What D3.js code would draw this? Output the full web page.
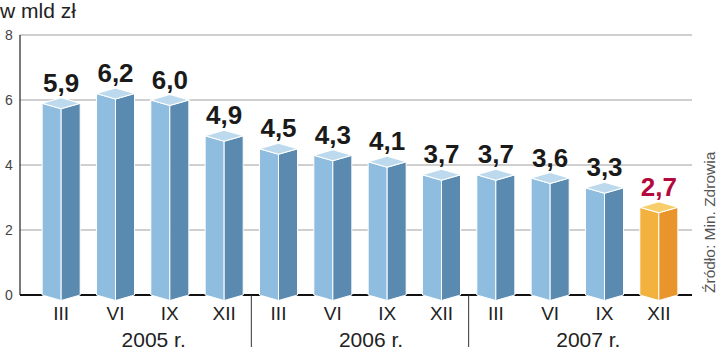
<!DOCTYPE html>
<html><head><meta charset="utf-8">
<script src="https://cdn.jsdelivr.net/npm/d3@7"></script>
<style>
html,body{margin:0;padding:0;background:#fff;}
svg{display:block;}
</style></head>
<body>
<script>
const months = ["III","VI","IX","XII","III","VI","IX","XII","III","VI","IX","XII"];
const values = [5.9,6.2,6.0,4.9,4.5,4.3,4.1,3.7,3.7,3.6,3.3,2.7];
const labels = ["5,9","6,2","6,0","4,9","4,5","4,3","4,1","3,7","3,7","3,6","3,3","2,7"];
const years = ["2005 r.","2006 r.","2007 r."];
const yTicks = [0,2,4,6,8];
const highlight = 11;

const W=720,H=351;
const svg=d3.select("body").append("svg").attr("width",W).attr("height",H);
const x=d3.scaleBand().domain(d3.range(values.length)).range([34,686]).paddingInner(0.3).paddingOuter(0.15);
const y=d3.scaleLinear().domain([0,8]).range([295,35]);
const left=20, right=692, dz=5.5;
const FF="Liberation Sans, Arial, sans-serif";

// gridlines
svg.append("g").selectAll("line").data(yTicks.filter(d=>d>0)).join("line")
  .attr("x1",left).attr("x2",right).attr("y1",d=>y(d)).attr("y2",d=>y(d))
  .attr("stroke","#a0a0a0").attr("stroke-width",1);
// y axis line
svg.append("line").attr("x1",left).attr("x2",left).attr("y1",y(8)).attr("y2",y(0)).attr("stroke","#222").attr("stroke-width",1.2);
// baseline
svg.append("line").attr("x1",left).attr("x2",right).attr("y1",y(0)).attr("y2",y(0)).attr("stroke","#111").attr("stroke-width",2);
// y tick labels
svg.append("g").selectAll("text").data(yTicks).join("text")
  .attr("x",9).attr("y",d=>y(d)+5).attr("text-anchor","middle")
  .attr("font-family",FF).attr("font-size",14).attr("fill","#444")
  .text(d=>d);

// group separators
const seps=[3.5,7.5];
const step=x.step();
svg.append("g").selectAll("line").data(seps).join("line")
  .attr("x1",d=>x(0)+x.bandwidth()/2+d*step).attr("x2",d=>x(0)+x.bandwidth()/2+d*step)
  .attr("y1",y(0)).attr("y2",347).attr("stroke","#333").attr("stroke-width",1);

// bars
const colsBlue={l:"#8fbddf",r:"#5b8ab0",t:"#bcd9ee"};
const colsOr={l:"#f3b23e",r:"#e9952b",t:"#f8cd6c"};
const g=svg.append("g");
values.forEach((v,i)=>{
  const c=i===highlight?colsOr:colsBlue;
  const x0=x(i), x1=x(i)+x.bandwidth(), xm=(x0+x1)/2;
  const yt=y(v), yb=y(0);
  g.append("path").attr("d",`M${x0},${yt}L${xm},${yt+dz}L${xm},${yb+dz}L${x0},${yb}Z`).attr("fill",c.l).attr("stroke","#fff").attr("stroke-width",1);
  g.append("path").attr("d",`M${xm},${yt+dz}L${x1},${yt}L${x1},${yb}L${xm},${yb+dz}Z`).attr("fill",c.r).attr("stroke","#fff").attr("stroke-width",1);
  g.append("path").attr("d",`M${x0},${yt}L${xm},${yt-dz}L${x1},${yt}L${xm},${yt+dz}Z`).attr("fill",c.t).attr("stroke","#fff").attr("stroke-width",1.2);
  g.append("text").attr("x",xm).attr("y",yt-dz-6).attr("text-anchor","middle")
    .attr("font-family",FF).attr("font-weight","bold").attr("font-size",26)
    .attr("fill",i===highlight?"#b3093c":"#1a1a1a").text(labels[i]);
  g.append("text").attr("x",xm).attr("y",320).attr("text-anchor","middle")
    .attr("font-family",FF).attr("font-size",19).attr("fill","#222").text(months[i]);
});
// years
svg.append("g").selectAll("text").data(years).join("text")
  .attr("x",(d,k)=>(x(k*4)+x(k*4+3)+x.bandwidth())/2+11).attr("y",347).attr("text-anchor","middle")
  .attr("font-family",FF).attr("font-size",21).attr("fill","#222").text(d=>d);
// title
svg.append("text").attr("x",0).attr("y",18).attr("font-family",FF).attr("font-size",21).attr("fill","#222").text("w mld zł");
// source
svg.append("text").attr("transform","translate(715,293) rotate(-90)")
  .attr("font-family",FF).attr("font-size",15.5).attr("fill","#555").text("Źródło: Min. Zdrowia");
</script>
</body></html>
